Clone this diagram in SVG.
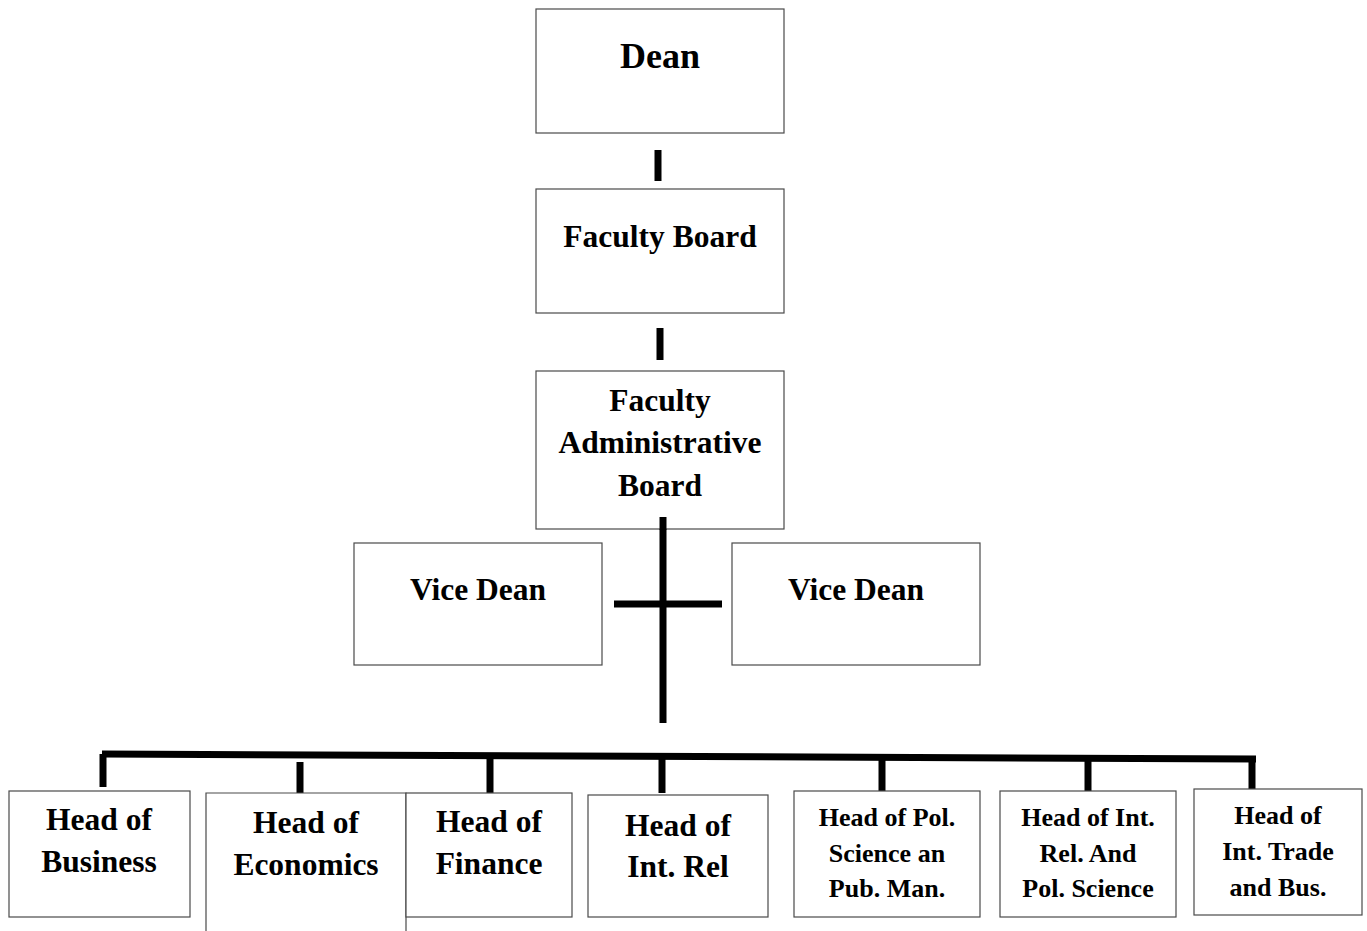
<svg xmlns="http://www.w3.org/2000/svg" width="1367" height="931" viewBox="0 0 1367 931">
<style>
.box{fill:#fff;stroke:#4a4a4a;stroke-width:1.2}
.t{font-family:"Liberation Serif","Times New Roman",serif;font-weight:bold;fill:#000;text-anchor:middle}
.L{font-size:31.5px}
.S{font-size:26px}
.c{stroke:#000;stroke-width:7;fill:none;stroke-linecap:butt}
</style>
<rect width="1367" height="931" fill="#fff"/>
<g id="connectors">
<line class="c" x1="658" y1="150" x2="658" y2="181"/>
<line class="c" x1="660" y1="328" x2="660" y2="360"/>
<line class="c" x1="663" y1="517" x2="663" y2="723"/>
<line class="c" x1="614" y1="604" x2="722" y2="604"/>
<line class="c" x1="102" y1="754" x2="1256" y2="759"/>
<line class="c" x1="103" y1="754" x2="103" y2="787"/>
<line class="c" x1="300" y1="762" x2="300" y2="793"/>
<line class="c" x1="490" y1="756" x2="490" y2="793"/>
<line class="c" x1="662" y1="757" x2="662" y2="793"/>
<line class="c" x1="882" y1="758" x2="882" y2="791"/>
<line class="c" x1="1088" y1="758" x2="1088" y2="791"/>
<line class="c" x1="1252" y1="759" x2="1252" y2="789"/>
</g>
<g id="dean">
<rect class="box" x="536" y="9" width="248" height="124"/>
<text class="t" x="660" y="68" font-size="36">Dean</text>
</g>
<g id="faculty-board">
<rect class="box" x="536" y="189" width="248" height="124"/>
<text class="t L" x="660" y="247">Faculty Board</text>
</g>
<g id="faculty-admin-board">
<rect class="box" x="536" y="371" width="248" height="158"/>
<text class="t L" x="660" y="411">Faculty</text>
<text class="t L" x="660" y="453">Administrative</text>
<text class="t L" x="660" y="496">Board</text>
</g>
<line class="c" x1="663" y1="517" x2="663" y2="530"/>
<g id="vice-dean-left">
<rect class="box" x="354" y="543" width="248" height="122"/>
<text class="t L" x="478" y="600">Vice Dean</text>
</g>
<g id="vice-dean-right">
<rect class="box" x="732" y="543" width="248" height="122"/>
<text class="t L" x="856" y="600">Vice Dean</text>
</g>
<g id="head-business">
<rect class="box" x="9" y="791" width="181" height="126"/>
<text class="t L" x="99" y="830">Head of</text>
<text class="t L" x="99" y="872">Business</text>
</g>
<g id="head-economics">
<path class="box" d="M206,931 V793 H406 V931"/>
<text class="t L" x="306" y="833">Head of</text>
<text class="t L" x="306" y="875">Economics</text>
</g>
<g id="head-finance">
<rect class="box" x="406" y="793" width="166" height="124"/>
<text class="t L" x="489" y="832">Head of</text>
<text class="t L" x="489" y="874">Finance</text>
</g>
<g id="head-intrel">
<rect class="box" x="588" y="795" width="180" height="122"/>
<text class="t L" x="678" y="836">Head of</text>
<text class="t L" x="678" y="877">Int. Rel</text>
</g>
<g id="head-polsci">
<rect class="box" x="794" y="791" width="186" height="126"/>
<text class="t S" x="887" y="826">Head of Pol.</text>
<text class="t S" x="887" y="862">Science an</text>
<text class="t S" x="887" y="897">Pub. Man.</text>
</g>
<g id="head-intrel-polsci">
<rect class="box" x="1000" y="791" width="176" height="126"/>
<text class="t S" x="1088" y="826">Head of Int.</text>
<text class="t S" x="1088" y="862">Rel. And</text>
<text class="t S" x="1088" y="897">Pol. Science</text>
</g>
<g id="head-inttrade">
<rect class="box" x="1194" y="789" width="168" height="126"/>
<text class="t S" x="1278" y="824">Head of</text>
<text class="t S" x="1278" y="860">Int. Trade</text>
<text class="t S" x="1278" y="896">and Bus.</text>
</g>
</svg>
